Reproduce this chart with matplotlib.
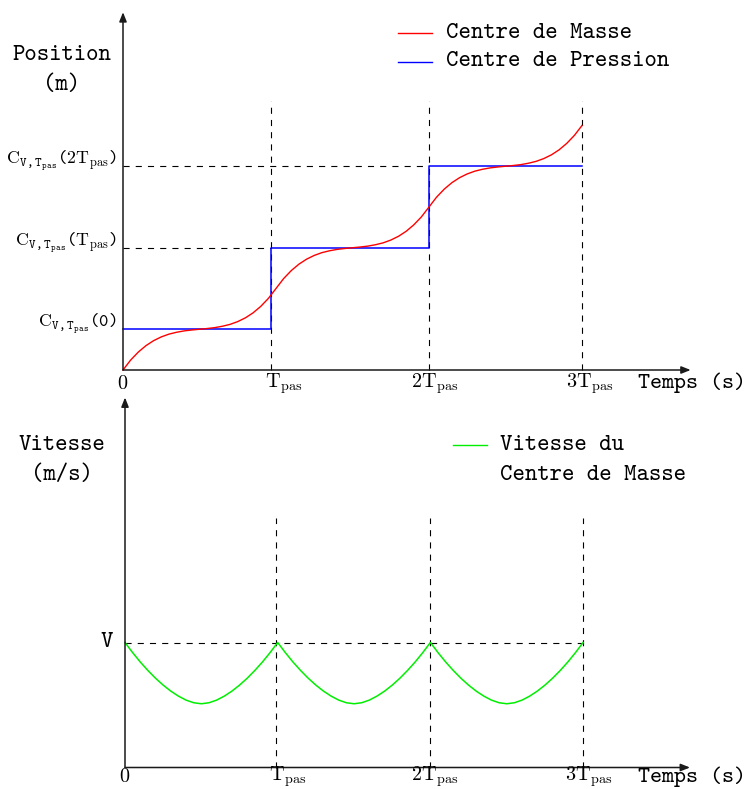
import numpy as np
import matplotlib
matplotlib.use("Agg")
import matplotlib.pyplot as plt
from matplotlib.lines import Line2D
from matplotlib.transforms import ScaledTranslation

plt.rcParams['mathtext.fontset'] = 'custom'
plt.rcParams['mathtext.rm'] = 'cmr10'
plt.rcParams['mathtext.it'] = 'cmr10'
plt.rcParams['mathtext.tt'] = 'cmtt10'
plt.rcParams['mathtext.fallback'] = 'cm'

# ---------------- data ----------------
t = np.round(np.arange(61) * 0.05, 2)          # time in units of T_pas

# centre of mass position (units: one step length)
com_pos = [0.000, 0.122, 0.220, 0.299, 0.360, 0.406, 0.440, 0.463, 0.480, 0.491,
           0.500, 0.509, 0.520, 0.537, 0.560, 0.594, 0.640, 0.701, 0.780, 0.878,
           1.000, 1.122, 1.220, 1.299, 1.360, 1.406, 1.440, 1.463, 1.480, 1.491,
           1.500, 1.509, 1.520, 1.537, 1.560, 1.594, 1.640, 1.701, 1.780, 1.878,
           2.000, 2.122, 2.220, 2.299, 2.360, 2.406, 2.440, 2.463, 2.480, 2.491,
           2.500, 2.509, 2.520, 2.537, 2.560, 2.594, 2.640, 2.701, 2.780, 2.878,
           3.000]

# centre of mass velocity (units: V)
com_vel = [1.000, 0.919, 0.844, 0.776, 0.714, 0.659, 0.611, 0.571, 0.539, 0.518,
           0.510, 0.518, 0.539, 0.571, 0.611, 0.659, 0.714, 0.776, 0.844, 0.919,
           1.000, 0.919, 0.844, 0.776, 0.714, 0.659, 0.611, 0.571, 0.539, 0.518,
           0.510, 0.518, 0.539, 0.571, 0.611, 0.659, 0.714, 0.776, 0.844, 0.919,
           1.000, 0.919, 0.844, 0.776, 0.714, 0.659, 0.611, 0.571, 0.539, 0.518,
           0.510, 0.518, 0.539, 0.571, 0.611, 0.659, 0.714, 0.776, 0.844, 0.919,
           1.000]

# centre of pressure: step levels and switching times
cop_levels = [0.5, 1.5, 2.5]
step_times_top = [0.0, 0.97, 2.0, 3.0]
step_times_bot = [0.0, 0.99, 2.0, 3.0]

x_tick_labels = [r'$\mathrm{0}$', r'$\mathrm{T}_{\mathrm{pas}}$', r'$\mathrm{2T}_{\mathrm{pas}}$',
                 r'$\mathrm{3T}_{\mathrm{pas}}$']
y_tick_labels = [
    r'$\mathrm{C}_{\mathtt{V,T}_{\mathtt{pas}}}\mathtt{(0)}$',
    r'$\mathrm{C}_{\mathtt{V,T}_{\mathtt{pas}}}\mathtt{(}\mathrm{T}_{\mathrm{pas}}\mathtt{)}$',
    r'$\mathrm{C}_{\mathtt{V,T}_{\mathtt{pas}}}\mathtt{(}\mathrm{2T}_{\mathrm{pas}}\mathtt{)}$',
]
v_level = 1.0
series_names = ['Centre de Masse', 'Centre de Pression', 'Vitesse du\nCentre de Masse']

# ---------------- figure ----------------
W, H = 746, 789
fig = plt.figure(figsize=(W / 100, H / 100), dpi=100)
TT = 'cmtt10'
TTS = 17
SERIF = 14.5
YLAB = 12.8

def fx(x):
    return x / W

def fy(y):
    return 1 - y / H

ax1 = fig.add_axes([0, 1 - 395 / H, 1, 395 / H])
ax1.set_xlim(-123 / 153, (W - 123) / 153)
ax1.set_ylim(-(395 - 370) / 81.5, 370 / 81.5)
ax2 = fig.add_axes([0, 0, 1, 394 / H])
ax2.set_xlim(-125 / 152.7, (W - 125) / 152.7)
ax2.set_ylim(-(789 - 767.5) / 125, (767.5 - 395) / 125)
for ax in (ax1, ax2):
    ax.axis('off')

axis_col = '#1a1a1a'
arrow = dict(arrowstyle='-|>,head_length=0.55,head_width=0.22', color=axis_col,
             lw=1.1, shrinkA=0, shrinkB=0)
dash = dict(color='black', lw=0.8, linestyle=(0, (5.5, 5.5)))

# ----- top panel -----
ax1.annotate('', xy=(0, 4.39), xytext=(0, 0), arrowprops=arrow)
ax1.annotate('', xy=(3.71, 0), xytext=(0, 0), arrowprops=arrow)
for ts in step_times_top[1:]:
    ax1.plot([ts, ts], [0, 3.30], **dash)
ax1.plot([0, step_times_top[1]], [cop_levels[1]] * 2, **dash)
ax1.plot([0, step_times_top[2]], [cop_levels[2]] * 2, **dash)

cx, cy = [], []
for i, lev in enumerate(cop_levels):
    cx += [step_times_top[i], step_times_top[i + 1]]
    cy += [lev, lev]
ax1.plot(cx, cy, color='#0000ff', lw=1.1)
ax1.plot(t, com_pos, color='#ff0000', lw=1.0)

offs_top = [0, -6, -18, -16.5]
for ts, lab, o in zip(step_times_top, x_tick_labels, offs_top):
    tr = ax1.transData + ScaledTranslation(o / 100, -1.5 / 100, fig.dpi_scale_trans)
    ax1.text(ts, -0.15, lab, transform=tr, fontsize=SERIF,
             ha='center' if o == 0 else 'left', va='center')
for lev, lab in zip(cop_levels, y_tick_labels):
    tr = ax1.transData + ScaledTranslation(-6 / 100, 5 / 100, fig.dpi_scale_trans)
    ax1.text(0, lev, lab, transform=tr, fontsize=YLAB, ha='right', va='center')

fig.text(fx(62), fy(55), 'Position', family=TT, fontsize=TTS, ha='center', va='center')
fig.text(fx(62), fy(85), '(m)', family=TT, fontsize=TTS, ha='center', va='center')
fig.text(fx(638), fy(383), 'Temps (s)', family=TT, fontsize=16.5, ha='left', va='center')

fig.add_artist(Line2D([fx(398), fx(432)], [fy(33)] * 2, color='#ff0000', lw=1.0))
fig.add_artist(Line2D([fx(398), fx(432)], [fy(62)] * 2, color='#0000ff', lw=1.0))
fig.text(fx(446), fy(33), series_names[0], family=TT, fontsize=TTS, ha='left', va='center')
fig.text(fx(446), fy(62), series_names[1], family=TT, fontsize=TTS, ha='left', va='center')

# ----- bottom panel -----
ax2.annotate('', xy=(0, 2.96), xytext=(0, 0), arrowprops=arrow)
ax2.annotate('', xy=(3.70, 0), xytext=(0, 0), arrowprops=arrow)
for ts in step_times_bot[1:]:
    ax2.plot([ts, ts], [0, 2.0], **dash)
ax2.plot([0, step_times_bot[-1]], [v_level, v_level], **dash)
ax2.plot(t, com_vel, color='#00ee00', lw=1.1)

offs_bot = [0, -7, -19.5, -18]
for ts, lab, o in zip(step_times_bot, x_tick_labels, offs_bot):
    tr = ax2.transData + ScaledTranslation(o / 100, 2.5 / 100, fig.dpi_scale_trans)
    ax2.text(ts, -0.09, lab, transform=tr, fontsize=SERIF,
             ha='center' if o == 0 else 'left', va='center')
tr = ax2.transData + ScaledTranslation(-12 / 100, 0, fig.dpi_scale_trans)
ax2.text(0, v_level, 'V', transform=tr, family=TT, fontsize=TTS, ha='right', va='center')

fig.text(fx(62), fy(445), 'Vitesse', family=TT, fontsize=TTS, ha='center', va='center')
fig.text(fx(62), fy(475), '(m/s)', family=TT, fontsize=TTS, ha='center', va='center')
fig.text(fx(638), fy(777), 'Temps (s)', family=TT, fontsize=16.5, ha='left', va='center')

fig.add_artist(Line2D([fx(453), fx(487)], [fy(445)] * 2, color='#00ee00', lw=1.0))
l1, l2 = series_names[2].split('\n')
fig.text(fx(500), fy(445), l1, family=TT, fontsize=TTS, ha='left', va='center')
fig.text(fx(500), fy(475), l2, family=TT, fontsize=TTS, ha='left', va='center')

fig.savefig('out.png', dpi=100)
